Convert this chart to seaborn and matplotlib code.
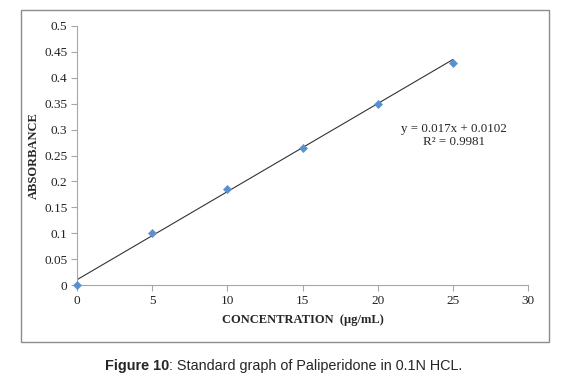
import numpy as np
import pandas as pd
import matplotlib
matplotlib.use('Agg')
import matplotlib.pyplot as plt
import seaborn as sns
from matplotlib.patches import Rectangle
from matplotlib.ticker import FuncFormatter

# Data
concentration = [0, 5, 10, 15, 20, 25]
absorbance = [0.0, 0.101, 0.186, 0.265, 0.350, 0.428]
slope = 0.017
intercept = 0.0102
r_squared = 0.9981

x_ticks = [0, 5, 10, 15, 20, 25, 30]
y_ticks = [0, 0.05, 0.1, 0.15, 0.2, 0.25, 0.3, 0.35, 0.4, 0.45, 0.5]

sns.set_theme(style='white')
plt.rcParams['font.family'] = ['Liberation Serif', 'DejaVu Serif']

df = pd.DataFrame({'conc': concentration, 'abs': absorbance})

W, H = 565, 385
fig = plt.figure(figsize=(W / 100, H / 100), dpi=100)
ax = fig.add_axes([77 / W, 1 - 285 / H, (528 - 77) / W, (285 - 26) / H])

# outer chart border
fig.patches.append(Rectangle((20.5 / W, 1 - 342 / H), (549 - 20.5) / W, (342 - 10) / H,
                             transform=fig.transFigure, fill=False,
                             edgecolor='#8c8c8c', linewidth=1.0))

# linear trendline
fit_x = np.array([concentration[0], concentration[-1]])
sns.lineplot(x=fit_x, y=slope * fit_x + intercept, ax=ax, color='#333333', linewidth=0.8)

sns.scatterplot(data=df, x='conc', y='abs', ax=ax, marker='D', s=18,
                color='#5b8fd0', edgecolor='#5b8fd0', zorder=3, clip_on=False)

ax.set_xlim(0, 30)
ax.set_ylim(0, 0.5)
ax.set_xticks(x_ticks)
ax.set_yticks(y_ticks)
ax.yaxis.set_major_formatter(FuncFormatter(lambda v, p: '%g' % round(v, 2)))

for side in ['top', 'right']:
    ax.spines[side].set_visible(False)
for side in ['left', 'bottom']:
    ax.spines[side].set_color('#a6a6a6')
    ax.spines[side].set_linewidth(0.8)

ax.tick_params(axis='both', direction='out', length=4, width=0.8, color='#a6a6a6',
               labelsize=9.5, labelcolor='#222222', pad=3, left=True, bottom=True)

ax.set_xlabel('CONCENTRATION  (μg/mL)', fontsize=9, fontweight='bold', va='center')
ax.set_ylabel('ABSORBANCE', fontsize=9, fontweight='bold', va='center')
ax.xaxis.set_label_coords(0.5, -(320 - 285) / (285 - 26))
ax.yaxis.set_label_coords((34 - 77) / (528 - 77), 0.5)

ax.text(25.1, 0.302, 'y = 0.017x + 0.0102', ha='center', va='center', fontsize=9.4)
ax.text(25.1, 0.277, 'R² = 0.9981', ha='center', va='center', fontsize=9.4)

# caption: bold figure number followed by regular text
cap_y = 1 - 366 / H
t1 = fig.text(105 / W, cap_y, 'Figure 10', ha='left', va='center', fontsize=10.4,
              fontweight='bold', family=['Liberation Sans', 'DejaVu Sans'])
fig.canvas.draw()
bb = t1.get_window_extent()
fig.text(bb.x1 / fig.bbox.width, cap_y,
         ': Standard graph of Paliperidone in 0.1N HCL.', ha='left', va='center',
         fontsize=10.4, family=['Liberation Sans', 'DejaVu Sans'])

fig.savefig('out.png', dpi=100)
